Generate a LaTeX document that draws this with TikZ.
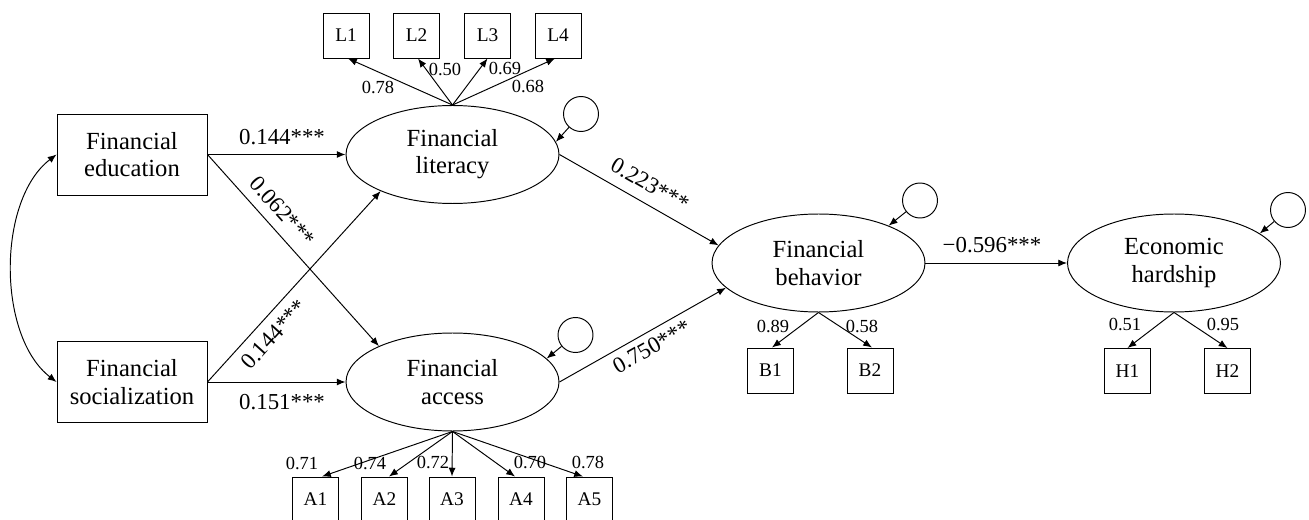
\documentclass[tikz,border=0pt]{standalone}
\usepackage{fontspec}
\setmainfont{Liberation Serif}
\usetikzlibrary{shapes.geometric,arrows.meta}

\tikzset{
  obsbox/.style={draw, minimum width=3cm, minimum height=1.62cm, inner sep=0pt, align=center, font=\fontsize{14}{15.5}\selectfont},
  latent/.style={draw, ellipse, minimum width=4.26cm, minimum height=1.96cm, inner sep=0pt, align=center, font=\fontsize{14}{15.5}\selectfont},
  item/.style={draw, minimum width=0.92cm, minimum height=0.9cm, inner sep=0pt, font=\fontsize{11}{13}\selectfont},
  resid/.style={draw, circle, minimum size=0.7cm, inner sep=0pt},
  coef/.style={font=\fontsize{13}{14}\selectfont, inner sep=1pt},
  load/.style={font=\fontsize{10.5}{12}\selectfont, inner sep=0pt},
}

\begin{document}
\begin{tikzpicture}[x=0.02cm, y=-0.02cm, line width=0.55pt, >={Latex[length=5pt,width=4pt]}]
    \useasboundingbox (0,0) rectangle (1309,520);

    % exogenous
    \node[obsbox] (educ) at (132,154.5) {Financial\\education};
    \node[obsbox] (soc) at (132,382) {Financial\\socialization};

    % latent constructs
    \node[latent] (lit) at (452.5,154.5) {Financial\\literacy};
    \node[latent] (acc) at (452.5,382) {Financial\\access};
    \node[latent] (beh) at (818.5,263) {Financial\\behavior};
    \node[latent] (hard) at (1174,263) {Economic\\hardship};

    % residuals
    \node[resid] (elit) at (581,114) {};
    \node[resid] (eacc) at (575.5,335) {};
    \node[resid] (ebeh) at (920,200.5) {};
    \node[resid] (ehard) at (1288,210) {};

    % indicators
    \node[item] (L1) at (346,35.5) {L1};
    \node[item] (L2) at (416.5,35.5) {L2};
    \node[item] (L3) at (487.5,35.5) {L3};
    \node[item] (L4) at (558,35.5) {L4};
    \node[item] (A1) at (315.5,499.5) {A1};
    \node[item] (A2) at (384.5,499.5) {A2};
    \node[item] (A3) at (452,499.5) {A3};
    \node[item] (A4) at (521,499.5) {A4};
    \node[item] (A5) at (589.5,499.5) {A5};
    \node[item] (B1) at (770.5,370.5) {B1};
    \node[item] (B2) at (870,370.5) {B2};
    \node[item] (H1) at (1127.5,371) {H1};
    \node[item] (H2) at (1227.5,371) {H2};

    % structural paths
    \draw[<->] (educ.west) .. controls (-3,200) and (-3,336) .. (soc.west);
    \draw[->] (educ) -- node[coef, pos=0.54, above=4.5pt] {0.144***} (lit);
    \draw[->] (educ.east) -- node[coef, pos=0.36, sloped, above=4.5pt] {0.062***} (acc.154);
    \draw[->] (soc.east) -- node[coef, pos=0.31, sloped, below=4pt] {0.144***} (lit.207);
    \draw[->] (soc) -- node[coef, pos=0.54, below=5.5pt] {0.151***} (acc);
    \draw[->] (lit.east) -- node[coef, pos=0.51, sloped, above=5pt] {0.223***} (beh.170);
    \draw[->] (acc.east) -- node[coef, pos=0.51, sloped, below=2.7pt] {0.750***} (beh.195);
    \draw[->] (beh) -- node[coef, pos=0.47, above=4.7pt] {−0.596***} (hard);

    \draw[->] (elit) -- (lit.7);
    \draw[->] (eacc) -- (acc.14);
    \draw[->] (ebeh) -- (beh.28);
    \draw[->] (ehard) -- (hard.19);

    % loadings
    \draw[->] (lit.north) -- ([xshift=0.04cm]L1.south);
    \draw[->] (lit.north) -- ([xshift=0.03cm]L2.south);
    \draw[->] (lit.north) -- (L3.south);
    \draw[->] (lit.north) -- ([xshift=-0.06cm]L4.south);
    \draw[->] (acc.south) -- ([xshift=0.13cm]A1.north);
    \draw[->] (acc.south) -- ([xshift=0.09cm]A2.north);
    \draw[->] (acc.south) -- (A3.north);
    \draw[->] (acc.south) -- ([xshift=-0.12cm]A4.north);
    \draw[->] (acc.south) -- ([xshift=-0.13cm]A5.north);
    \draw[->] (beh.south) -- ([xshift=0.03cm]B1.north);
    \draw[->] (beh.south) -- ([xshift=0.04cm]B2.north);
    \draw[->] (hard.south) -- (H1.north);
    \draw[->] (hard.south) -- (H2.north);

    \node[load] (lL1) at (378,87) {0.78};
    \node[load] (lL2) at (445,69) {0.50};
    \node[load] (lL3) at (505,68) {0.69};
    \node[load] (lL4) at (528,86) {0.68};
    \node[load] (lA1) at (302,463) {0.71};
    \node[load] (lA2) at (370,463) {0.74};
    \node[load] (lA3) at (433,462) {0.72};
    \node[load] (lA4) at (530,462) {0.70};
    \node[load] (lA5) at (588,462) {0.78};
    \node[load] (lB1) at (773,326) {0.89};
    \node[load] (lB2) at (862,326) {0.58};
    \node[load] (lH1) at (1125,324) {0.51};
    \node[load] (lH2) at (1223,324) {0.95};
\end{tikzpicture}
\end{document}
